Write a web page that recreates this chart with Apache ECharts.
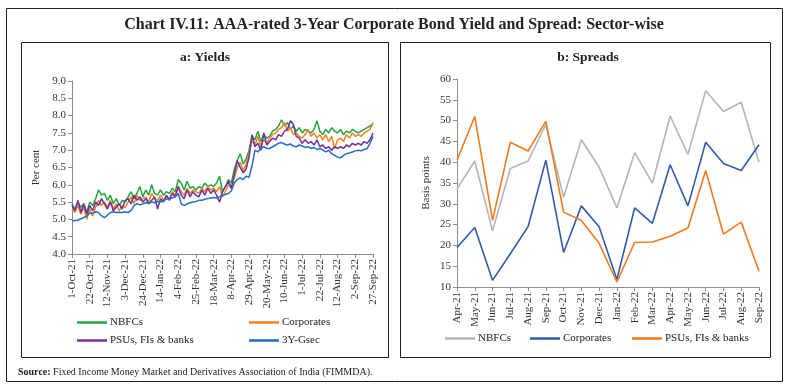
<!DOCTYPE html>
<html><head><meta charset="utf-8">
<script src="https://cdn.jsdelivr.net/npm/echarts/dist/echarts.min.js"></script>
<style>html,body{margin:0;padding:0;background:#fff;} #c{width:789px;height:389px;}</style>
</head><body><div id="c"></div>
<script>
const yieldDates = ['1-Oct-21','5-Oct-21','8-Oct-21','12-Oct-21','15-Oct-21','19-Oct-21','22-Oct-21',
'26-Oct-21','29-Oct-21','2-Nov-21','5-Nov-21','9-Nov-21','12-Nov-21',
'16-Nov-21','19-Nov-21','23-Nov-21','26-Nov-21','30-Nov-21','3-Dec-21',
'7-Dec-21','10-Dec-21','14-Dec-21','17-Dec-21','21-Dec-21','24-Dec-21',
'28-Dec-21','31-Dec-21','4-Jan-22','7-Jan-22','11-Jan-22','14-Jan-22',
'18-Jan-22','21-Jan-22','25-Jan-22','28-Jan-22','1-Feb-22','4-Feb-22',
'8-Feb-22','11-Feb-22','15-Feb-22','18-Feb-22','22-Feb-22','25-Feb-22',
'1-Mar-22','4-Mar-22','8-Mar-22','11-Mar-22','15-Mar-22','18-Mar-22',
'22-Mar-22','25-Mar-22','29-Mar-22','1-Apr-22','5-Apr-22','8-Apr-22',
'12-Apr-22','15-Apr-22','19-Apr-22','22-Apr-22','26-Apr-22','29-Apr-22',
'3-May-22','6-May-22','10-May-22','13-May-22','17-May-22','20-May-22',
'24-May-22','27-May-22','31-May-22','3-Jun-22','7-Jun-22','10-Jun-22',
'14-Jun-22','17-Jun-22','21-Jun-22','24-Jun-22','28-Jun-22','1-Jul-22',
'5-Jul-22','8-Jul-22','12-Jul-22','15-Jul-22','19-Jul-22','22-Jul-22',
'26-Jul-22','29-Jul-22','2-Aug-22','5-Aug-22','9-Aug-22','12-Aug-22',
'16-Aug-22','19-Aug-22','23-Aug-22','26-Aug-22','30-Aug-22','2-Sep-22',
'6-Sep-22','9-Sep-22','13-Sep-22','16-Sep-22','23-Sep-22','27-Sep-22'];

const yieldNBFC = [5.45,5.30,5.50,5.35,5.45,5.20,5.50,
 5.40,5.60,5.85,5.70,5.75,5.55,
 5.70,5.45,5.60,5.40,5.55,5.50,
 5.65,5.80,5.60,5.75,5.95,5.65,
 5.85,5.70,6.00,5.75,5.70,5.85,
 5.70,5.80,5.75,5.90,5.80,6.15,
 6.05,5.85,6.10,5.90,5.95,5.85,
 5.95,5.90,6.05,5.95,6.00,5.95,
 6.05,6.25,5.80,5.95,6.15,6.05,
 6.45,6.70,6.90,6.60,6.75,7.00,
 7.40,7.30,7.55,7.25,7.45,7.35,
 7.40,7.55,7.60,7.70,7.88,7.70,
 7.80,7.60,7.70,7.55,7.65,7.50,
 7.60,7.55,7.50,7.60,7.85,7.55,
 7.45,7.60,7.50,7.65,7.55,7.50,
 7.60,7.45,7.55,7.50,7.60,7.55,
 7.50,7.55,7.60,7.65,7.70,7.75];

const yieldCorp = [5.30,5.20,5.40,5.15,5.35,5.00,5.30,
 5.10,5.35,5.55,5.40,5.50,5.35,
 5.55,5.30,5.45,5.25,5.40,5.35,
 5.50,5.65,5.45,5.70,5.55,5.60,
 5.65,5.50,5.75,5.60,5.55,5.70,
 5.55,5.65,5.60,5.80,5.70,5.95,
 5.80,5.70,5.90,5.75,5.85,5.80,
 5.75,5.90,5.80,5.95,5.85,5.90,
 5.80,5.95,5.65,5.80,6.00,5.90,
 6.20,6.50,6.65,6.40,6.60,6.90,
 7.30,7.15,7.40,7.10,7.30,7.20,
 7.35,7.45,7.50,7.60,7.65,7.80,
 7.55,7.65,7.45,7.50,7.40,7.35,
 7.45,7.60,7.40,7.50,7.35,7.45,
 7.30,7.45,7.25,7.40,7.05,7.30,
 7.35,7.25,7.45,7.35,7.50,7.40,
 7.45,7.40,7.50,7.55,7.60,7.80];

const yieldPSU = [5.40,5.25,5.55,5.20,5.45,5.15,5.40,
 5.25,5.50,5.40,5.60,5.45,5.30,
 5.50,5.25,5.35,5.45,5.30,5.55,
 5.60,5.45,5.70,5.55,5.65,5.50,
 5.60,5.45,5.55,5.65,5.30,5.60,
 5.50,5.70,5.55,5.75,5.65,5.95,
 5.70,5.60,5.85,5.65,5.80,5.70,
 5.65,5.85,5.70,5.90,5.75,5.85,
 5.70,5.50,5.80,5.95,6.10,5.90,
 6.30,6.70,6.50,6.35,6.45,6.80,
 7.45,7.10,7.20,7.00,7.50,7.15,
 7.25,7.35,7.30,7.45,7.40,7.55,
 7.60,7.85,7.75,7.40,7.35,7.20,
 7.30,7.20,7.25,7.15,7.30,7.10,
 7.15,7.05,7.10,7.00,7.10,7.05,
 7.10,7.05,7.15,7.10,7.20,7.15,
 7.20,7.15,7.25,7.20,7.30,7.50];

const yieldGsec = [4.97,4.96,4.98,5.02,5.05,5.10,5.18,
 5.18,5.22,5.20,5.10,5.05,5.12,
 5.20,5.22,5.20,5.21,5.20,5.22,
 5.20,5.25,5.40,5.45,5.42,5.45,
 5.48,5.47,5.50,5.48,5.52,5.50,
 5.55,5.58,5.60,5.62,5.65,5.75,
 5.45,5.40,5.45,5.48,5.50,5.52,
 5.55,5.55,5.58,5.60,5.62,5.63,
 5.62,5.65,5.70,5.72,5.75,5.82,
 6.05,6.15,6.20,6.15,6.25,6.22,
 6.55,7.00,6.95,7.05,7.10,7.05,
 7.05,7.10,7.15,7.20,7.22,7.18,
 7.15,7.18,7.12,7.10,7.15,7.12,
 7.08,7.10,7.05,7.08,7.02,7.05,
 7.00,6.95,7.00,6.90,6.85,6.80,
 6.78,6.85,6.90,6.92,6.95,6.98,
 7.00,6.98,7.02,7.05,7.20,7.40];

const spreadMonths = ['Apr-21','May-21','Jun-21','Jul-21','Aug-21','Sep-21','Oct-21','Nov-21','Dec-21',
 'Jan-22','Feb-22','Mar-22','Apr-22','May-22','Jun-22','Jul-22','Aug-22','Sep-22'];
const spreadNBFC = [33.6,40.3,23.5,38.5,40.3,49.0,31.6,45.4,38.8,29.0,42.3,35.0,51.1,41.9,57.2,52.2,54.4,40.0];
const spreadCorp = [19.5,24.3,11.6,18.0,24.5,40.5,18.3,29.5,24.5,11.8,29.0,25.3,39.4,29.5,44.8,39.7,38.0,44.2];
const spreadPSU  = [40.5,51.0,26.0,44.8,42.7,49.8,28.0,26.0,20.5,11.2,20.7,20.8,22.2,24.2,38.0,22.7,25.6,13.8];

const F = 'Liberation Serif';
const AX = '#8c8c8c';
const chart = echarts.init(document.getElementById('c'), null, {renderer:'canvas'});

function xAx(grid, data, interval){
  return {type:'category', gridIndex:grid, data:data, boundaryGap:false,
    axisLine:{lineStyle:{color:AX}},
    axisTick:{show:true, interval:interval, length:4, lineStyle:{color:AX}},
    axisLabel:{interval:interval, rotate:90, fontFamily:F, fontSize:11, color:'#333', margin:5},
    splitLine:{show:false}};
}
function yAx(grid, min, max, step, name, gap, dec){
  return {type:'value', gridIndex:grid, min:min, max:max, interval:step,
    axisLine:{show:true, lineStyle:{color:AX}},
    axisTick:{show:true, length:4, lineStyle:{color:AX}},
    axisLabel:{fontFamily:F, fontSize:11, color:'#333', margin:6,
      formatter:v=>v.toFixed(dec)},
    splitLine:{show:false},
    name:name, nameLocation:'middle', nameGap:gap,
    nameTextStyle:{fontFamily:F, fontSize:11, color:'#333'}};
}
function ln(name, x, y, data, color, w){
  return {name:name, type:'line', xAxisIndex:x, yAxisIndex:y, data:data,
    showSymbol:false, symbol:'none', lineStyle:{color:color, width:w}, itemStyle:{color:color}};
}
function lg(name, left, top){
  return {data:[name], left:left, top:top, padding:0, icon:'rect', itemWidth:30, itemHeight:2.5,
    itemGap:0, formatter:n=>n.replace('_s',''), selectedMode:false,
    textStyle:{fontFamily:F, fontSize:11, color:'#222', padding:[0,0,0,-2]}};
}

const option = {
  animation:false,
  backgroundColor:'#fff',
  grid:[{left:72, top:81, width:301, height:173},{left:457, top:79, width:302, height:208}],
  xAxis:[xAx(0, yieldDates, 5), xAx(1, spreadMonths, 0)],
  yAxis:[yAx(0, 4, 9, 0.5, 'Per cent', 30, 1), yAx(1, 10, 60, 5, 'Basis points', 25, 0)],
  legend:[
    lg('NBFCs',77,317), lg('Corporates',249,317), lg('PSUs, FIs & banks',77,335), lg('3Y-Gsec',249,335),
    lg('NBFCs_s',445,333), lg('Corporates_s',530,333), lg('PSUs, FIs & banks_s',632,333)
  ],
  series:[
    ln('NBFCs',0,0,yieldNBFC,'#22a640',1.5),
    ln('Corporates',0,0,yieldCorp,'#f58220',1.5),
    ln('PSUs, FIs & banks',0,0,yieldPSU,'#7030a0',1.5),
    ln('3Y-Gsec',0,0,yieldGsec,'#1f6fc5',1.5),
    ln('NBFCs_s',1,1,spreadNBFC,'#b4b4b4',1.6),
    ln('Corporates_s',1,1,spreadCorp,'#2f5caa',1.6),
    ln('PSUs, FIs & banks_s',1,1,spreadPSU,'#f07a22',1.6)
  ],
  graphic:[
    {type:'rect', shape:{x:6.5,y:8.5,width:776,height:373}, style:{fill:'none',stroke:'#222',lineWidth:1}, silent:true},
    {type:'rect', shape:{x:21.5,y:42.5,width:367,height:315}, style:{fill:'none',stroke:'#222',lineWidth:1}, silent:true},
    {type:'rect', shape:{x:400.5,y:42.5,width:370,height:315}, style:{fill:'none',stroke:'#222',lineWidth:1}, silent:true},
    {type:'text', x:394, y:25, style:{text:'Chart IV.11: AAA-rated 3-Year Corporate Bond Yield and Spread: Sector-wise',
      fontFamily:F, fontWeight:'bold', fontSize:16, fill:'#222', align:'center', verticalAlign:'middle'}},
    {type:'text', x:205, y:58, style:{text:'a: Yields', fontFamily:F, fontWeight:'bold', fontSize:13.5, fill:'#222', align:'center', verticalAlign:'middle'}},
    {type:'text', x:588, y:58, style:{text:'b: Spreads', fontFamily:F, fontWeight:'bold', fontSize:13.5, fill:'#222', align:'center', verticalAlign:'middle'}},
    {type:'text', x:18, y:372, style:{text:'{b|Source:} Fixed Income Money Market and Derivatives Association of India (FIMMDA).',
      fontFamily:F, fontSize:10, fill:'#222', verticalAlign:'middle',
      rich:{b:{fontFamily:F, fontSize:10, fontWeight:'bold', fill:'#222'}}}}
  ]
};
chart.setOption(option);
</script></body></html>
